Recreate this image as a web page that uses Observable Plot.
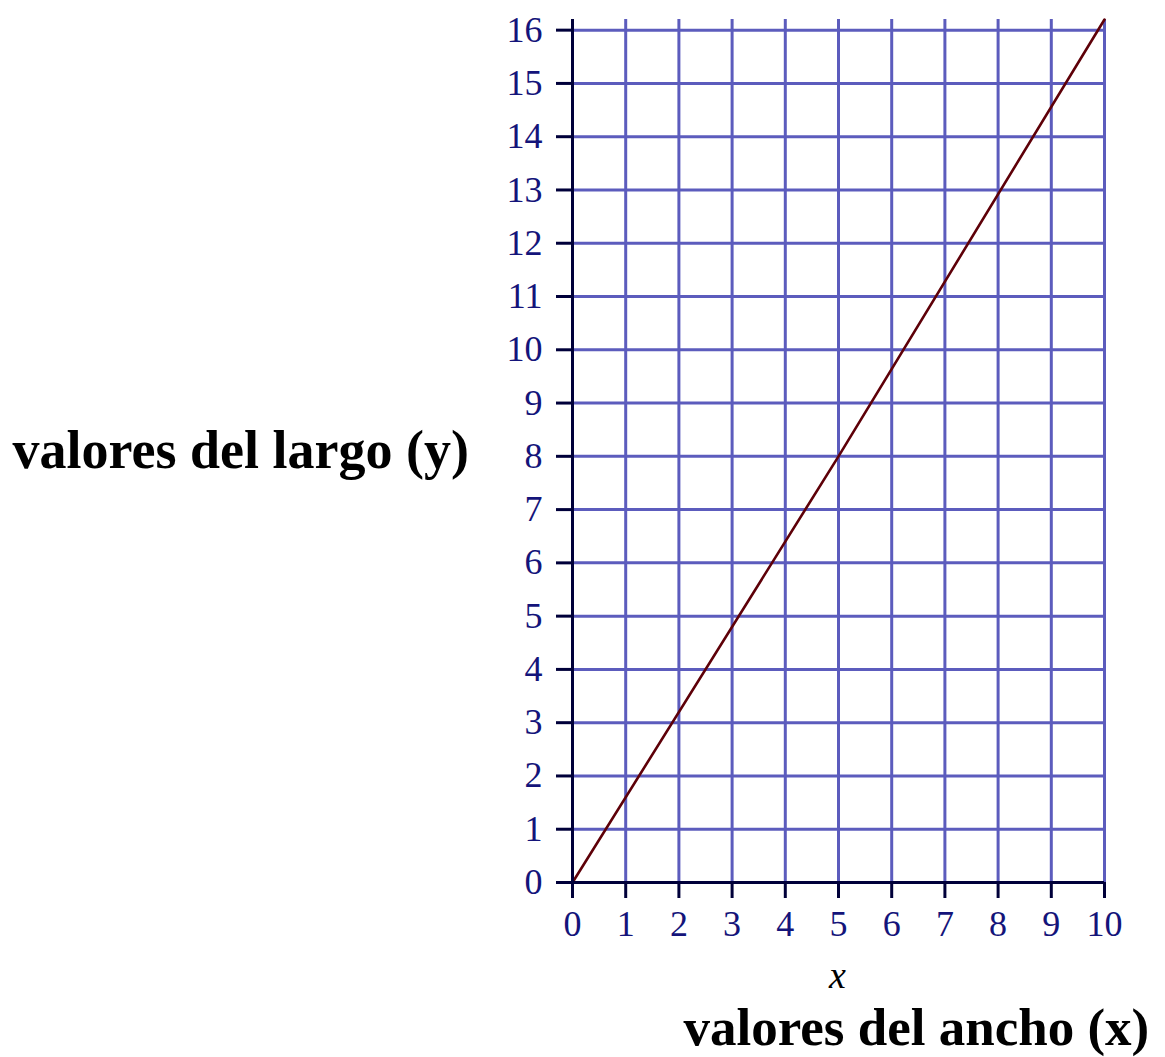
<!DOCTYPE html>
<html>
<head>
<meta charset="utf-8">
<script src="https://cdn.jsdelivr.net/npm/d3@7"></script>
<script src="https://cdn.jsdelivr.net/npm/@observablehq/plot@0.6"></script>
<style>
  html, body { margin: 0; padding: 0; background: #ffffff; }
  svg { display: block; }
</style>
</head>
<body>
<div id="chart"></div>
<script>
// Tick values along each axis
const anchoTicks = [0, 1, 2, 3, 4, 5, 6, 7, 8, 9, 10];
const largoTicks = [0, 1, 2, 3, 4, 5, 6, 7, 8, 9, 10, 11, 12, 13, 14, 15, 16];

// Points of the straight line: width (x) against length (y)
const anchoValores = [0, 5, 10];
const largoValores = [0, 8, 16.2];

// Axis titles
const tituloY = "valores del largo (y)";
const tituloX = "valores del ancho (x)";
const variableX = "x";

const puntos = anchoValores.map((x, i) => ({ x, y: largoValores[i] }));

const gridColor = "#5c5cbd";
const axisColor = "#00003a";
const tickTextColor = "#14147a";
const serif = "Liberation Serif, Times New Roman, serif";

const chart = Plot.plot({
  width: 1165,
  height: 1057,
  marginLeft: 572,
  marginRight: 61,
  marginTop: 19,
  marginBottom: 175,
  style: { background: "#ffffff", fontFamily: serif, overflow: "visible" },
  x: { domain: [0, 10], axis: null },
  y: { domain: [0, 16.2], axis: null },
  marks: [
    // blue grid
    Plot.gridX(anchoTicks, { stroke: gridColor, strokeOpacity: 1, strokeWidth: 3 }),
    Plot.gridY(largoTicks, { stroke: gridColor, strokeOpacity: 1, strokeWidth: 3 }),
    // the line
    Plot.line(puntos, { x: "x", y: "y", stroke: "#5e0008", strokeWidth: 2.6 }),
    // axis lines
    Plot.ruleX([0], { stroke: axisColor, strokeWidth: 3 }),
    Plot.ruleY([0], { stroke: axisColor, strokeWidth: 3 }),
    // ticks and tick labels
    Plot.axisX(anchoTicks, {
      anchor: "bottom",
      tickSize: 16,
      tickPadding: 12,
      stroke: axisColor,
      strokeWidth: 3,
      fill: tickTextColor,
      fontSize: 36,
      fontFamily: serif,
      label: null,
      tickFormat: d => String(d)
    }),
    Plot.axisY(largoTicks, {
      anchor: "left",
      tickSize: 16,
      tickPadding: 14,
      stroke: axisColor,
      strokeWidth: 3,
      fill: tickTextColor,
      fontSize: 36,
      fontFamily: serif,
      label: null,
      tickFormat: d => String(d)
    }),
    // axis titles
    Plot.text([tituloY], {
      frameAnchor: "left",
      textAnchor: "start",
      lineAnchor: "bottom",
      dx: -560,
      dy: 17,
      fontSize: 54,
      fontWeight: "bold",
      fontFamily: serif,
      fill: "#000000"
    }),
    Plot.text([variableX], {
      frameAnchor: "bottom",
      textAnchor: "middle",
      lineAnchor: "bottom",
      dx: -1,
      dy: 105,
      fontSize: 38,
      fontStyle: "italic",
      fontFamily: serif,
      fill: "#000000"
    }),
    Plot.text([tituloX], {
      frameAnchor: "bottom-left",
      textAnchor: "start",
      lineAnchor: "bottom",
      dx: 111,
      dy: 162,
      fontSize: 53,
      fontWeight: "bold",
      fontFamily: serif,
      fill: "#000000"
    })
  ]
});

document.getElementById("chart").appendChild(chart);
</script>
</body>
</html>
